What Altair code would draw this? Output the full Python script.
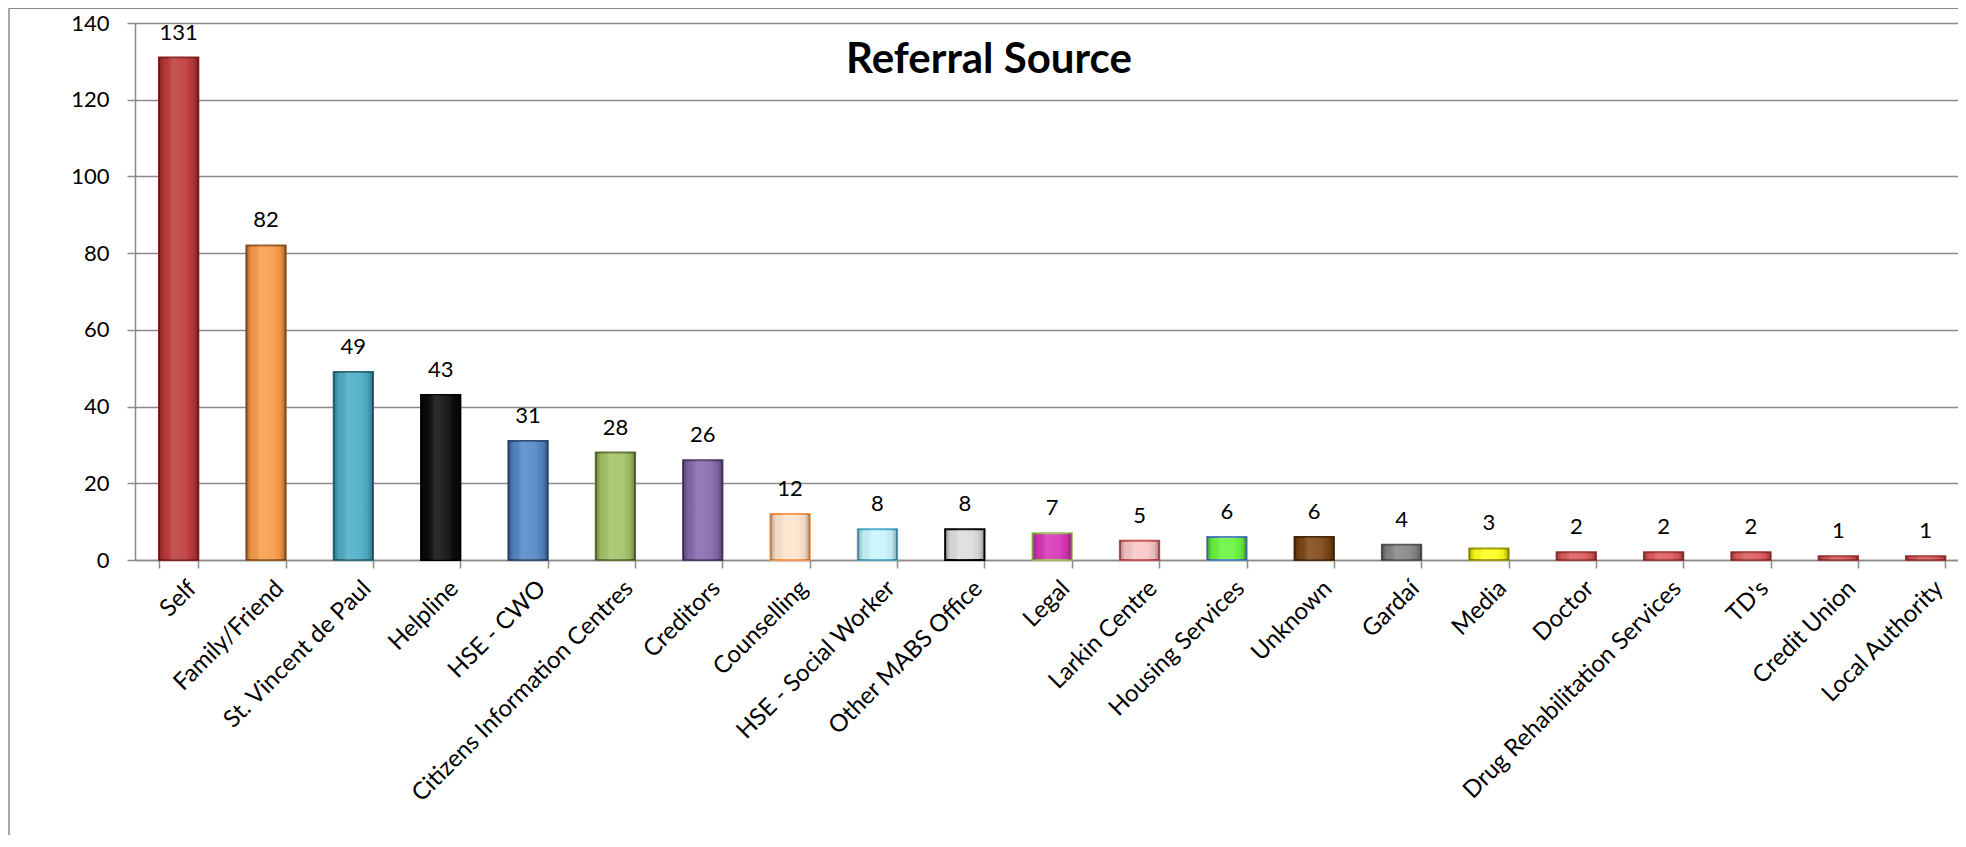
import altair as alt
import pandas as pd

categories = ["Self", "Family/Friend", "St. Vincent de Paul", "Helpline", "HSE - CWO",
              "Citizens Information Centres", "Creditors", "Counselling", "HSE - Social Worker",
              "Other MABS Office", "Legal", "Larkin Centre", "Housing Services", "Unknown",
              "Gardaí", "Media", "Doctor", "Drug Rehabilitation Services", "TD's",
              "Credit Union", "Local Authority"]
values = [131, 82, 49, 43, 31, 28, 26, 12, 8, 8, 7, 5, 6, 6, 4, 3, 2, 2, 2, 1, 1]
fills = ["#BE3838", "#F99A48", "#4BACC6", "#0A0A0A", "#5286C6", "#A2C265", "#8668AC",
         "#FEE3CC", "#C9F3FC", "#DCDCDC", "#D633B5", "#F8C6C6", "#66F53A", "#7E4512",
         "#858585", "#FFFF1A", "#E05A5A", "#E05A5A", "#E05A5A", "#E05A5A", "#E05A5A"]
strokes = ["#8B2020", "#9A5A24", "#2C6C7E", "#000000", "#2F4F78", "#5E7633", "#4E3A68",
           "#F79646", "#4BACC6", "#000000", "#9BBB59", "#C0504D", "#4F81BD", "#4A2808",
           "#555555", "#9C9C00", "#A03535", "#A03535", "#A03535", "#A03535", "#A03535"]
y_ticks = [0, 20, 40, 60, 80, 100, 120, 140]
title_text = ["Referral Source"]

FONT = "Lato"
GRAY = "#8a8a8a"

df = pd.DataFrame({"source": categories, "count": values})

x_enc = alt.X(
    "source:N", sort=categories,
    scale=alt.Scale(domain=categories, range=[0, 1834.35], paddingInner=0.55, paddingOuter=0.275),
    axis=alt.Axis(title=None, labelAngle=-45, labelAlign="right", labelBaseline="top",
                  labelFont=FONT, labelFontSize=24, labelColor="black", labelPadding=8,
                  labelOffset=5, tickBand="extent", tickColor=GRAY, tickSize=8, tickWidth=1.5,
                  domainColor=GRAY, domainWidth=1.5, grid=False, labelLimit=0),
)
y_enc = alt.Y(
    "count:Q", scale=alt.Scale(domain=[0, 140], nice=False),
    axis=alt.Axis(title=None, values=y_ticks, labelFont=FONT, labelFontSize=22,
                  labelColor="black", labelPadding=18, tickColor=GRAY, tickSize=8,
                  tickWidth=1.5, domainColor=GRAY, domainWidth=1.5, gridColor=GRAY,
                  gridWidth=1.5),
)

base = alt.Chart(df)

bars = base.mark_bar(strokeWidth=2).encode(
    x=x_enc, y=y_enc,
    fill=alt.Fill("source:N", scale=alt.Scale(domain=categories, range=fills), legend=None),
    stroke=alt.Stroke("source:N", scale=alt.Scale(domain=categories, range=strokes), legend=None),
)

shade = base.mark_bar(
    strokeWidth=0,
    color=alt.LinearGradient(
        gradient="linear", x1=0, x2=1, y1=0, y2=0,
        stops=[
            alt.GradientStop(color="rgba(0,0,0,0.30)", offset=0),
            alt.GradientStop(color="rgba(0,0,0,0.04)", offset=0.14),
            alt.GradientStop(color="rgba(255,255,255,0.14)", offset=0.35),
            alt.GradientStop(color="rgba(255,255,255,0.08)", offset=0.7),
            alt.GradientStop(color="rgba(0,0,0,0.05)", offset=0.86),
            alt.GradientStop(color="rgba(0,0,0,0.32)", offset=1),
        ],
    ),
).encode(x=x_enc, y=y_enc)

labels = base.mark_text(dy=-18, baseline="alphabetic", align="center", font=FONT,
                        fontSize=22, color="black").encode(
    x=x_enc, y=y_enc, text=alt.Text("count:Q"))

title = alt.Chart(pd.DataFrame({"t": title_text})).mark_text(
    font=FONT, fontSize=42, fontWeight="bold", align="center", baseline="alphabetic",
    color="black").encode(x=alt.value(854), y=alt.value(50), text="t:N")

frame_left = alt.Chart(pd.DataFrame({"t": title_text})).mark_rule(
    color=GRAY, strokeWidth=1.5).encode(x=alt.value(-126), y=alt.value(-15), y2=alt.value(812))
frame_top = alt.Chart(pd.DataFrame({"t": title_text})).mark_rule(
    color=GRAY, strokeWidth=2).encode(x=alt.value(-126), x2=alt.value(1830), y=alt.value(-15))

chart = alt.layer(frame_left, frame_top, bars, shade, labels, title).properties(
    width=1823, height=537,
    autosize=alt.AutoSizeParams(type="none"),
    padding={"left": 127, "top": 15, "right": 0, "bottom": 275},
).configure_view(stroke=None).configure(background="white")

chart.save("out.html", embed_options={"renderer": "svg", "actions": False})
